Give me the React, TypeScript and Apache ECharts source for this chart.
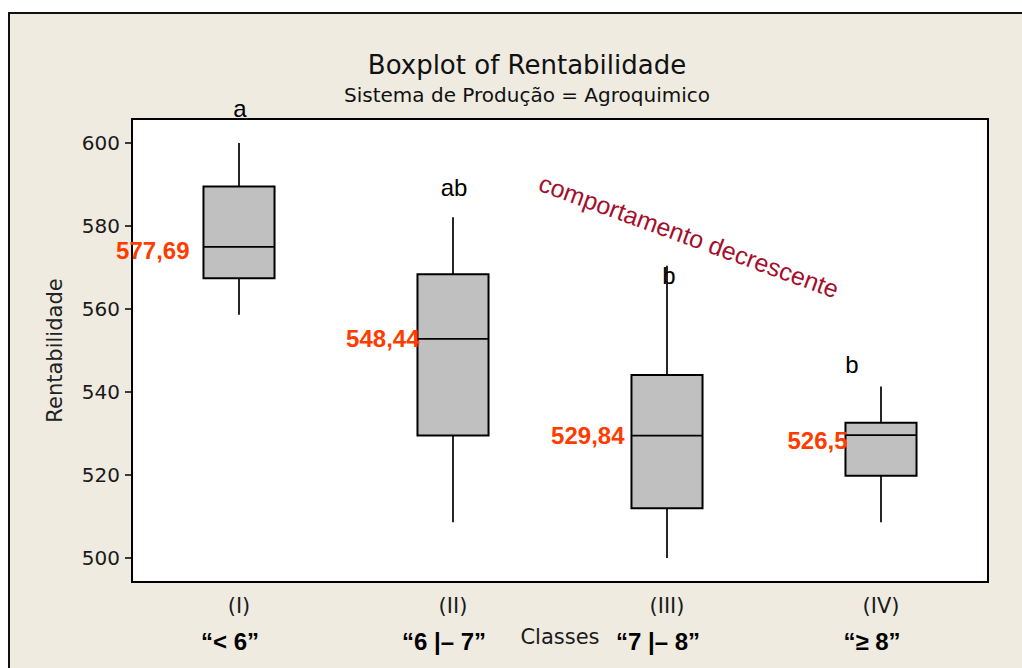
import React, { useEffect, useRef } from 'react';
import * as echarts from 'echarts';

// ---- data ----
const categories = ['(I)', '(II)', '(III)', '(IV)'];
const classLabels = ['“< 6”', '“6 |– 7”', '“7 |– 8”', '“≥ 8”'];
const whiskerLow = [558.6, 508.6, 500.0, 508.6];
const q1 = [567.4, 529.5, 512.0, 519.8];
const median = [575.0, 552.8, 529.5, 529.6];
const q3 = [589.5, 568.4, 544.1, 532.6];
const whiskerHigh = [600.0, 582.1, 570.4, 541.3];
const meanText = ['577,69', '548,44', '529,84', '526,5'];
const meanLabelY = [574.2, 552.8, 529.6, 528.2];
const groupLetters = ['a', 'ab', 'b', 'b'];
const letterY = [608.4, 589.3, 568.0, 546.7];
const yTicks = [500, 520, 540, 560, 580, 600];

// ---- style constants ----
const meanLabelGap = [49, 33, 42, 33];
const letterShift = [1, 1, 2, -29];
const MINI = 'DejaVu Sans';
const ARIAL = 'Liberation Sans';

export default function App() {
  const ref = useRef<HTMLDivElement>(null);
  useEffect(() => {
    document.body.style.margin = '0';
    const chart = echarts.init(ref.current!, undefined, { renderer: 'svg' });
    const boxData = categories.map((_, i) => [i, whiskerLow[i], q1[i], median[i], q3[i], whiskerHigh[i]]);
    const option: any = {
      animation: false,
      title: {
        text: 'Boxplot of Rentabilidade',
        subtext: 'Sistema de Produção = Agroquimico',
        left: 522,
        top: 45,
        textAlign: 'center',
        itemGap: 3,
        textStyle: { fontFamily: MINI, fontSize: 26, fontWeight: 'normal', color: '#111', lineHeight: 30 },
        subtextStyle: { fontFamily: MINI, fontSize: 20, color: '#111', lineHeight: 24 },
      },
      graphic: [
        {
          type: 'rect',
          z: -100,
          shape: { x: 9, y: 13, width: 1100, height: 700 },
          style: { fill: '#efebe1', stroke: '#111', lineWidth: 2 },
          silent: true,
        },
        {
          type: 'text',
          z: 100,
          x: 689,
          y: 236,
          rotation: (-20 * Math.PI) / 180,
          style: {
            text: 'comportamento decrescente',
            fill: '#a50f2d',
            fontSize: 25,
            fontFamily: ARIAL,
            align: 'center',
            verticalAlign: 'middle',
          },
          silent: true,
        },
      ],
      grid: {
        left: 132,
        right: 34,
        top: 119,
        bottom: 86,
        outerBoundsMode: 'none',
        containLabel: false,
        show: true,
        backgroundColor: '#ffffff',
        borderColor: '#000',
        borderWidth: 2,
      },
      xAxis: {
        type: 'category',
        data: categories,
        boundaryGap: true,
        axisLine: { show: true, lineStyle: { color: '#000', width: 2 } },
        axisTick: { alignWithLabel: true, length: 7, lineStyle: { color: '#000', width: 1.5 } },
        axisLabel: {
          interval: 0,
          margin: 12,
          formatter: (v: string, i: number) => `{a|${v}}\n{b|${classLabels[i]}}`,
          rich: {
            a: { fontFamily: MINI, fontSize: 21, color: '#1a1a1a', lineHeight: 24 },
            b: { fontFamily: ARIAL, fontWeight: 'bold', fontSize: 24, color: '#000', lineHeight: 46, padding: [0, 18, 0, 0] },
          },
        },
        name: 'Classes',
        nameLocation: 'middle',
        nameGap: 44,
        nameMoveOverlap: false,
        nameTextStyle: { fontFamily: MINI, fontSize: 21, color: '#1a1a1a' },
        splitLine: { show: false },
      },
      yAxis: {
        type: 'value',
        min: 494.2,
        max: 605.8,
        splitNumber: 5,
        splitLine: { show: false },
        axisLine: { show: true, lineStyle: { color: '#000', width: 2 } },
        axisTick: { show: true, length: 7, customValues: yTicks, lineStyle: { color: '#000', width: 1.5 } },
        axisLabel: {
          margin: 12,
          fontFamily: MINI,
          fontSize: 20,
          color: '#1a1a1a',
          customValues: yTicks,
          formatter: (v: number) => (yTicks.includes(Math.round(v * 10) / 10) ? String(v) : ''),
        },
        name: 'Rentabilidade',
        nameLocation: 'middle',
        nameGap: 67,
        nameMoveOverlap: false,
        nameTextStyle: { fontFamily: MINI, fontSize: 21, color: '#222' },
      },
      series: [
        {
          type: 'custom',
          data: boxData,
          encode: { x: 0, y: [1, 2, 3, 4, 5] },
          renderItem: (params: any, api: any) => {
            const i = api.value(0);
            const pLow = api.coord([i, api.value(1)]);
            const pQ1 = api.coord([i, api.value(2)]);
            const pMed = api.coord([i, api.value(3)]);
            const pQ3 = api.coord([i, api.value(4)]);
            const pHigh = api.coord([i, api.value(5)]);
            const half = api.size([1, 0])[0] * 0.166;
            const x = pMed[0];
            const ls = { stroke: '#000', lineWidth: 1.7 };
            return {
              type: 'group',
              children: [
                { type: 'line', shape: { x1: x, y1: pHigh[1], x2: x, y2: pQ3[1] }, style: ls },
                { type: 'line', shape: { x1: x, y1: pQ1[1], x2: x, y2: pLow[1] }, style: ls },
                {
                  type: 'rect',
                  shape: { x: x - half, y: pQ3[1], width: 2 * half, height: pQ1[1] - pQ3[1] },
                  style: { fill: '#c0c0c0', stroke: '#000', lineWidth: 2 },
                },
                { type: 'line', shape: { x1: x - half, y1: pMed[1], x2: x + half, y2: pMed[1] }, style: ls },
              ],
            };
          },
          z: 3,
        },
        {
          type: 'scatter',
          silent: true,
          clip: false,
          symbolSize: 1,
          itemStyle: { color: 'transparent', opacity: 1 },
          data: letterY.map((y, i) => ({
            value: [i, y],
            label: { offset: [letterShift[i], 0] },
          })),
          label: {
            show: true,
            position: 'inside',
            formatter: (p: any) => groupLetters[p.dataIndex],
            fontFamily: ARIAL,
            fontSize: 24,
            color: '#000',
            opacity: 1,
          },
          z: 5,
        },
        {
          type: 'scatter',
          silent: true,
          clip: false,
          symbolSize: 1,
          itemStyle: { color: 'transparent', opacity: 1 },
          data: meanLabelY.map((y, i) => ({
            value: [i, y],
            label: { distance: meanLabelGap[i] },
          })),
          label: {
            show: true,
            position: 'left',
            formatter: (p: any) => meanText[p.dataIndex],
            fontFamily: ARIAL,
            fontWeight: 'bold',
            fontSize: 24,
            color: '#ff3c00',
            opacity: 1,
          },
          z: 6,
        },
      ],
    };
    chart.setOption(option);
    return () => chart.dispose();
  }, []);
  return <div ref={ref} style={{ width: 1022, height: 668 }} />;
}
